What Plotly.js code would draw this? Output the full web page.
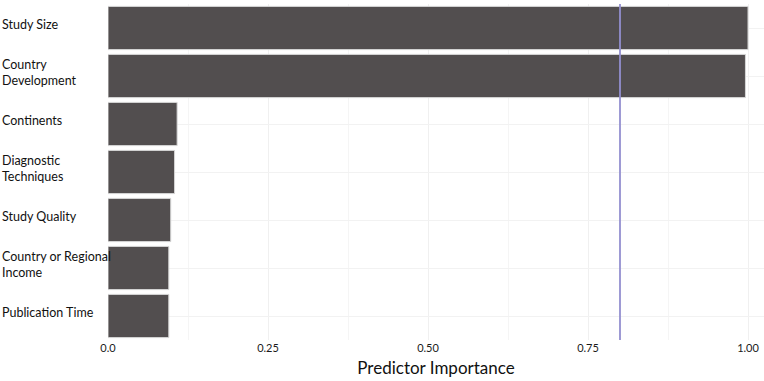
<!DOCTYPE html>
<html>
<head>
<meta charset="utf-8">
<script src="https://cdn.plot.ly/plotly-3.0.1.min.js"></script>
<style>html,body{margin:0;padding:0;background:#fff;}#chart{width:764px;height:381px;}</style>
</head>
<body>
<div id="chart"></div>
<script>
const categories = ["Study Size", "Country Development", "Continents", "Diagnostic Techniques", "Study Quality", "Country or Regional Income", "Publication Time"];
const labelText = ["Study Size", "Country<br>Development", "Continents", "Diagnostic<br>Techniques", "Study Quality", "Country or Regional<br>Income", "Publication Time"];
const importance = [1.0, 0.996, 0.108, 0.104, 0.098, 0.095, 0.095];
const threshold = [0.8];
const tickVals = [0, 0.25, 0.5, 0.75, 1.0];
const tickText = ["0.0", "0.25", "0.50", "0.75", "1.00"];

const font = "Lato, 'Open Sans', sans-serif";

const trace = {
  type: "bar",
  orientation: "h",
  y: categories,
  x: importance,
  width: 0.9,
  marker: {color: "#524e4f", line: {color: "#d6d6d6", width: 1}},
  hoverinfo: "x+y"
};

const annotations = categories.map((c, i) => ({
  xref: "paper", yref: "y",
  x: -108/656, y: c,
  xanchor: "left", yanchor: "middle",
  align: "left",
  yshift: 4,
  text: labelText[i],
  showarrow: false,
  font: {family: font, size: 12.5, color: "#111111"}
}));

const layout = {
  width: 764, height: 381,
  margin: {l: 108, r: 0, t: 4, b: 41},
  paper_bgcolor: "#ffffff",
  plot_bgcolor: "#ffffff",
  showlegend: false,
  bargap: 0.1,
  xaxis: {
    range: [0, 656/640],
    tickvals: tickVals,
    ticktext: tickText,
    showgrid: true,
    gridcolor: "#f0f0f0",
    gridwidth: 1,
    minor: {dtick: 0.125, tick0: 0, showgrid: true, gridcolor: "#f5f5f5", gridwidth: 1},
    zeroline: false,
    showline: false,
    ticks: "",
    tickfont: {family: font, size: 11, color: "#1a1a1a"},
    title: {text: "Predictor Importance", font: {family: font, size: 17, color: "#111111"}, standoff: 9}
  },
  yaxis: {
    type: "category",
    autorange: "reversed",
    showticklabels: false,
    showgrid: true,
    gridcolor: "#f2f2f2",
    zeroline: false,
    showline: false,
    ticks: ""
  },
  shapes: threshold.map(t => ({
    type: "line", xref: "x", yref: "paper",
    x0: t, x1: t, y0: 0, y1: 1,
    line: {color: "#938fd0", width: 1.8}
  })),
  annotations: annotations
};

Plotly.newPlot("chart", [trace], layout, {displayModeBar: false, staticPlot: true});
</script>
</body>
</html>
